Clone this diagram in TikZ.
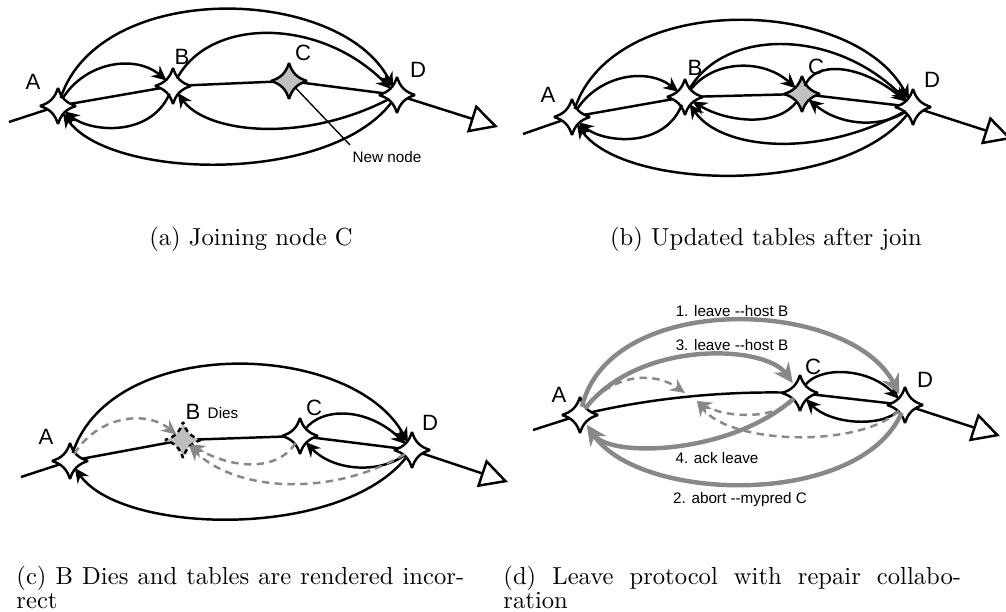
\documentclass[tikz,border=0pt]{standalone}
\usepackage{fontspec}
\newfontfamily\labelfont{Liberation Sans}
\usetikzlibrary{arrows.meta}
\definecolor{msggray}{RGB}{136,136,136}
\definecolor{newfill}{RGB}{192,192,192}
\definecolor{deadfill}{RGB}{190,190,190}

\tikzset{
  hub/.style={circle, minimum size=6.5pt, inner sep=0pt},
  ringline/.style={line width=1pt},
  link/.style={line width=1pt, -{Stealth[length=6pt,width=5.6pt,inset=2pt]}},
  lost/.style={line width=1pt, draw=msggray, dash pattern=on 3pt off 2.2pt,
    -{Stealth[length=6pt,width=5.6pt,inset=2pt]}},
  heavy/.style={line width=1.8pt, draw=msggray, shorten >=1.5pt,
    -{Stealth[length=8pt,width=7.5pt,inset=2.6pt]}},
  succ/.style={line width=1pt, -{Triangle[length=11.4pt,width=11.8pt,fill=white]}},
  peerline/.style={line width=1pt, line join=bevel},
  nodelabel/.style={font=\labelfont\fontsize{9}{10}\selectfont, inner sep=0pt},
  note/.style={font=\labelfont\fontsize{6.2}{7}\selectfont, inner sep=0pt},
  caption/.style={font=\fontsize{10}{12}\selectfont, inner sep=0pt},
  pics/peer/.style={code={
    \draw[peerline,#1] (18,0) .. controls (8,3.2) and (3.2,8) .. (0,18)
      .. controls (-3.2,8) and (-8,3.2) .. (-18,0)
      .. controls (-8,-3.2) and (-3.2,-8) .. (0,-18)
      .. controls (3.2,-8) and (8,-3.2) .. cycle;}},
}

\begin{document}
\begin{tikzpicture}[x=0.4065pt, y=-0.4065pt]
\useasboundingbox (0,0) rectangle (1006,612);

% ---------------- (a) joining node C ----------------
\node[hub] (Aa) at (58,106) {};
\node[hub] (Ba) at (173,86) {};
\node[hub] (Ca) at (289,81) {};
\node[hub] (Da) at (397,95) {};
\coordinate (a0) at (9,122);
\coordinate (a9) at (498,127);
\coordinate (newtag) at (350,145);
\draw[ringline] (a0) -- (Aa.center) -- (Ba.center) -- (Ca.center) -- (Da.center);
\draw[succ] (Da.center) -- (a9);
\draw[line width=0.55pt] (Ca.center) -- (newtag);
\pic at (58,106) {peer={fill=white}};
\pic at (173,86) {peer={fill=white}};
\pic at (289,81) {peer={fill=newfill}};
\pic at (397,95) {peer={fill=white}};
\draw[link] (Aa) .. controls (100,-21) and (340,-15) .. (Da);
\draw[link] (Aa) .. controls (85,62) and (135,54) .. (Ba);
\draw[link] (Ba) .. controls (210,17) and (320,17) .. (Da);
\draw[link] (Ba) .. controls (150,138) and (90,132) .. (Aa);
\draw[link] (Da) .. controls (300,145) and (205,132) .. (Ba);
\draw[link] (Da) .. controls (330,185) and (110,180) .. (Aa);
\node[nodelabel] (la) at (33,82) {A};
\node[nodelabel] (lb) at (182,57) {B};
\node[nodelabel] (lc) at (303,53) {C};
\node[nodelabel] (ld) at (418,70) {D};
\node[note] (lnew) at (387,157) {New node};

% ---------------- (b) tables after the join ----------------
\begin{scope}[shift={(514,11)}]
\node[hub] (Ab) at (58,106) {};
\node[hub] (Bb) at (171,86) {};
\node[hub] (Cb) at (288,83) {};
\node[hub] (Db) at (399,96) {};
\coordinate (b0) at (9,123);
\coordinate (b9) at (498,128);
\draw[ringline] (b0) -- (Ab.center) -- (Bb.center) -- (Cb.center) -- (Db.center);
\draw[succ] (Db.center) -- (b9);
\pic at (58,106) {peer={fill=white}};
\pic at (171,86) {peer={fill=white}};
\pic at (288,83) {peer={fill=newfill}};
\pic at (399,96) {peer={fill=white}};
\draw[link] (Ab) .. controls (100,-21) and (340,-15) .. (Db);
\draw[link] (Ab) .. controls (85,64) and (133,56) .. (Bb);
\draw[link] (Bb) .. controls (210,17) and (320,17) .. (Db);
\draw[link] (Bb) .. controls (200,48) and (250,48) .. (Cb);
\draw[link] (Cb) .. controls (300,50) and (345,52) .. (Db);
\draw[link] (Bb) .. controls (150,138) and (90,132) .. (Ab);
\draw[link] (Cb) .. controls (265,116) and (215,112) .. (Bb);
\draw[link] (Db) .. controls (365,118) and (325,114) .. (Cb);
\draw[link] (Db) .. controls (300,150) and (205,137) .. (Bb);
\draw[link] (Db) .. controls (330,185) and (110,180) .. (Ab);
\node[nodelabel] (lab) at (34,84) {A};
\node[nodelabel] (lbb) at (181,57) {B};
\node[nodelabel] (lcb) at (302,56) {C};
\node[nodelabel] (ldb) at (418,69) {D};
\end{scope}

% ---------------- (c) B dies ----------------
\begin{scope}[shift={(12,355)}]
\node[hub] (Ac) at (58,106) {};
\node[hub] (Bc) at (171,85) {};
\node[hub] (Cc) at (288,81) {};
\node[hub] (Dc) at (400,95) {};
\coordinate (c0) at (9,122);
\coordinate (c9) at (496,127);
\draw[ringline] (c0) -- (Ac.center) -- (Bc.center) -- (Cc.center) -- (Dc.center);
\draw[succ] (Dc.center) -- (c9);
\pic at (58,106) {peer={fill=white}};
\pic at (171,85) {peer={fill=deadfill, dash pattern=on 2pt off 1.5pt}};
\pic at (288,81) {peer={fill=white}};
\pic at (400,95) {peer={fill=white}};
\draw[link] (Ac) .. controls (100,-21) and (340,-15) .. (Dc);
\draw[lost] (Ac) .. controls (85,62) and (133,54) .. (Bc);
\draw[link] (Cc) .. controls (310,52) and (355,52) .. (Dc);
\draw[link] (Dc) .. controls (365,120) and (320,115) .. (Cc);
\draw[lost] (Cc) .. controls (265,117) and (220,114) .. (Bc);
\draw[lost] (Dc) .. controls (320,142) and (225,137) .. (Bc);
\draw[link] (Dc) .. controls (330,185) and (110,180) .. (Ac);
\node[nodelabel] (lac) at (34,82) {A};
\node[nodelabel] (lbc) at (181,57) {B};
\node[note] (ldies) at (211,58) {Dies};
\node[nodelabel] (lcc) at (302,53) {C};
\node[nodelabel] (ldc) at (418,68) {D};
\end{scope}

% ---------------- (d) leave protocol ----------------
\node[hub] (Ad) at (580,415) {};
\node[hub] (Cd) at (800,393) {};
\node[hub] (Dd) at (905,405) {};
\coordinate (d0) at (533,430);
\coordinate (d9) at (1000,436);
\coordinate (dA) at (685,393);
\coordinate (dB) at (697,401);
\draw[ringline] (d0) -- (Ad.center) .. controls (640,400) and (720,390) .. (Cd.center) -- (Dd.center);
\draw[succ] (Dd.center) -- (d9);
\pic at (580,415) {peer={fill=white}};
\pic at (800,393) {peer={fill=white}};
\pic at (905,405) {peer={fill=white}};
\draw[link] (Cd) .. controls (818,366) and (868,367) .. (Dd);
\draw[link] (Dd) .. controls (880,428) and (830,424) .. (Cd);
\draw[lost] (Ad) .. controls (615,372) and (655,372) .. (dA);
\draw[lost] (Dd) .. controls (860,448) and (730,445) .. (dB);
\draw[lost] (Cd) .. controls (775,420) and (725,418) .. (dB);
\draw[heavy] (Ad) .. controls (610,290) and (850,298) .. (Dd);
\draw[heavy] (Ad) .. controls (640,339) and (765,345) .. (Cd);
\draw[heavy] (Cd) .. controls (730,455) and (610,458) .. (Ad);
\draw[heavy] (Dd) .. controls (860,508) and (640,503) .. (Ad);
\node[nodelabel] (lad) at (559,395) {A};
\node[nodelabel] (lcd) at (813,367) {C};
\node[nodelabel] (ldd) at (925,380) {D};
\node[note] (m1) at (732,311) {1. leave -{}-host B};
\node[note] (m3) at (732,345) {3. leave -{}-host B};
\node[note] (m4) at (717,458) {4. ack leave};
\node[note] (m2) at (740,500) {2. abort -{}-mypred C};

% ---------------- captions ----------------
\node[caption, anchor=base] (capa) at (251,246) {(a) Joining node C};
\node[caption, anchor=base] (capb) at (766,246) {(b) Updated tables after join};
\node[caption, anchor=base west] (capc) at (16,585) {\hbox to 182pt{(c) B Dies and tables are rendered incor-}};
\node[caption, anchor=base west] (capc2) at (16,609) {rect};
\node[caption, anchor=base west] (capd) at (503,585) {\hbox to 186pt{(d) Leave protocol with repair collabo-}};
\node[caption, anchor=base west] (capd2) at (503,609) {ration};
\end{tikzpicture}
\end{document}
